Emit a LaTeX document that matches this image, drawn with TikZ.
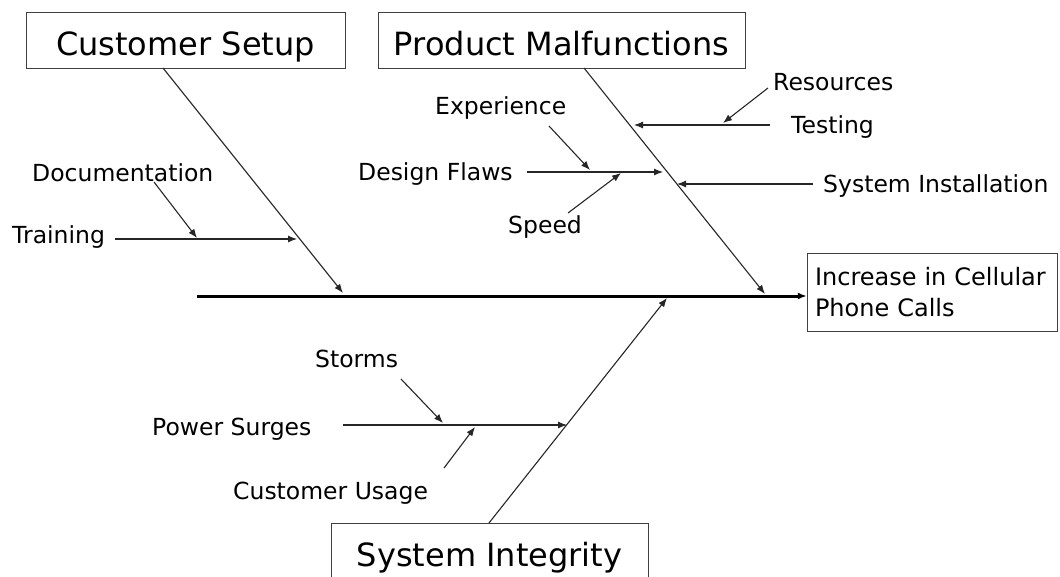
\documentclass[tikz,border=0pt]{standalone}
\usepackage{fontspec}
\setmainfont{DejaVu Sans}
\usetikzlibrary{arrows.meta}

\tikzset{
	hdr/.style={draw=black!75, minimum height=56pt, inner sep=0pt, text height=34pt, text depth=4pt, font=\fontsize{32}{36}\selectfont},
	lbl/.style={inner sep=4pt, anchor=base west, font=\fontsize{23.5}{27}\selectfont},
	bone/.style={->, line width=1.1pt, black!85},
	twig/.style={->, line width=1.1pt, black!85},
}

\begin{document}
\begin{tikzpicture}[>={Latex[length=9pt,width=7pt]}, x=1pt, y=-1pt]
	\useasboundingbox (0,0) rectangle (1060,576);
	% cause boxes and effect
	\node [hdr, minimum width=319pt] (cs) at (185.5,40) {Customer Setup};
	\node [hdr, minimum width=367pt] (pm) at (561.5,40) {Product Malfunctions};
	\node [hdr, minimum width=317pt] (si) at (489.5,551) {System Integrity};
	\node [draw=black!75, minimum width=250pt, minimum height=78pt, inner sep=8pt, text width=234pt, align=left, font=\fontsize{24}{31}\selectfont] (eff) at (932,292) {Increase in Cellular\\Phone Calls};

	\node [lbl] (doc) at (28,181) {Documentation};
	\node [lbl] (train) at (8,243) {Training};
	\node [lbl] (exp) at (431,114) {Experience};
	\node [lbl] (design) at (354,180) {Design Flaws};
	\node [lbl] (speed) at (504,233) {Speed};
	\node [lbl] (res) at (769,90) {Resources};
	\node [lbl] (test) at (787,133) {Testing};
	\node [lbl] (inst) at (819,192) {System Installation};
	\node [lbl] (storms) at (311,367) {Storms};
	\node [lbl] (power) at (148,435) {Power Surges};
	\node [lbl] (usage) at (229,499) {Customer Usage};

	% spine
	\coordinate (tail) at (197,296);
	\draw [->, line width=3pt] (tail) -- (tail -| eff.west);

	% bones
	\coordinate (cs-a) at (163,68);
	\coordinate (cs-b) at (343,293);
	\coordinate (pm-a) at (584,68);
	\coordinate (pm-b) at (765,294);
	\coordinate (si-a) at (489,523);
	\coordinate (si-b) at (667,298);
	\draw [bone] (cs-a) -- (cs-b);
	\draw [bone] (pm-a) -- (pm-b);
	\draw [bone] (si-a) -- (si-b);

	% Customer Setup
	\coordinate (train-a) at (115,239);
	\coordinate (train-b) at (297,239);
	\coordinate (doc-a) at (154,182);
	\coordinate (doc-b) at (197,238);
	\draw [twig] (train-a) -- (train-b);
	\draw [twig] (doc-a) -- (doc-b);

	% Product Malfunctions
	\coordinate (design-a) at (527,172);
	\coordinate (design-b) at (663,172);
	\coordinate (exp-a) at (549,126);
	\coordinate (exp-b) at (590,170);
	\coordinate (speed-a) at (568,213);
	\coordinate (speed-b) at (621,173);
	\coordinate (test-a) at (770,125);
	\coordinate (test-b) at (634,125);
	\coordinate (res-a) at (768,88);
	\coordinate (res-b) at (723,123);
	\coordinate (inst-a) at (813,184);
	\coordinate (inst-b) at (677,184);
	\draw [twig] (design-a) -- (design-b);
	\draw [twig] (exp-a) -- (exp-b);
	\draw [twig] (speed-a) -- (speed-b);
	\draw [twig] (test-a) -- (test-b);
	\draw [twig] (res-a) -- (res-b);
	\draw [twig] (inst-a) -- (inst-b);

	% System Integrity
	\coordinate (power-a) at (343,425);
	\coordinate (power-b) at (567,425);
	\coordinate (storms-a) at (401,379);
	\coordinate (storms-b) at (443,423);
	\coordinate (usage-a) at (444,468);
	\coordinate (usage-b) at (475,427);
	\draw [twig] (power-a) -- (power-b);
	\draw [twig] (storms-a) -- (storms-b);
	\draw [twig] (usage-a) -- (usage-b);
\end{tikzpicture}
\end{document}
